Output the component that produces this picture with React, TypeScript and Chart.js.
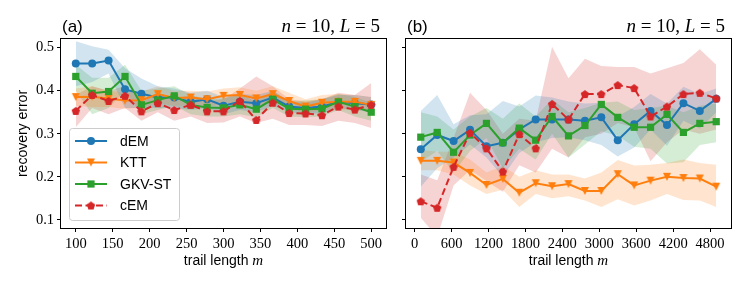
import React, { useEffect, useRef } from 'react';
import { Chart, registerables } from 'chart.js';
import { drawPoint } from 'chart.js/helpers';

Chart.register(...registerables);

// ---------------- data ----------------
const seriesNames = ['dEM', 'KTT', 'GKV-ST', 'cEM'];

const mLeft = [100, 122.2, 144.4, 166.7, 188.9, 211.1, 233.3, 255.6, 277.8, 300, 322.2, 344.4, 366.7, 388.9, 411.1, 433.3, 455.6, 477.8, 500];
const mRight = [100, 367, 633, 900, 1167, 1433, 1700, 1967, 2233, 2500, 2767, 3033, 3300, 3567, 3833, 4100, 4367, 4633, 4900];

const xTicksLeft = [100, 150, 200, 250, 300, 350, 400, 450, 500];
const xTicksRight = [0, 600, 1200, 1800, 2400, 3000, 3600, 4200, 4800];
const yTicks = [0.1, 0.2, 0.3, 0.4, 0.5];

// panel (a)
const aDEM = [0.463, 0.463, 0.470, 0.403, 0.393, 0.384, 0.384, 0.374, 0.380, 0.365, 0.374, 0.371, 0.384, 0.363, 0.360, 0.363, 0.374, 0.371, 0.368];
const aDEMHi = [0.515, 0.503, 0.495, 0.452, 0.428, 0.410, 0.405, 0.395, 0.400, 0.385, 0.392, 0.390, 0.400, 0.375, 0.372, 0.380, 0.390, 0.390, 0.385];
const aDEMLo = [0.410, 0.420, 0.440, 0.360, 0.360, 0.360, 0.360, 0.355, 0.360, 0.345, 0.355, 0.350, 0.365, 0.350, 0.345, 0.348, 0.358, 0.355, 0.350];

const aKTT = [0.385, 0.386, 0.382, 0.377, 0.378, 0.392, 0.383, 0.384, 0.380, 0.388, 0.390, 0.382, 0.392, 0.376, 0.363, 0.372, 0.374, 0.374, 0.367];
const aKTTHi = [0.405, 0.410, 0.400, 0.395, 0.398, 0.410, 0.400, 0.400, 0.398, 0.405, 0.408, 0.400, 0.410, 0.395, 0.380, 0.390, 0.392, 0.390, 0.385];
const aKTTLo = [0.365, 0.362, 0.362, 0.358, 0.360, 0.372, 0.365, 0.366, 0.362, 0.370, 0.372, 0.365, 0.375, 0.358, 0.347, 0.355, 0.356, 0.357, 0.350];

const aGKV = [0.433, 0.394, 0.398, 0.433, 0.367, 0.378, 0.388, 0.367, 0.361, 0.360, 0.367, 0.357, 0.380, 0.358, 0.357, 0.358, 0.374, 0.363, 0.350];
const aGKVHi = [0.460, 0.430, 0.430, 0.460, 0.400, 0.405, 0.410, 0.390, 0.380, 0.382, 0.390, 0.375, 0.400, 0.376, 0.378, 0.380, 0.392, 0.385, 0.372];
const aGKVLo = [0.400, 0.345, 0.360, 0.400, 0.345, 0.355, 0.365, 0.345, 0.340, 0.340, 0.345, 0.338, 0.360, 0.340, 0.338, 0.340, 0.355, 0.340, 0.330];

const aCEM = [0.353, 0.390, 0.376, 0.388, 0.352, 0.371, 0.355, 0.367, 0.352, 0.352, 0.376, 0.332, 0.372, 0.348, 0.347, 0.343, 0.363, 0.356, 0.367];
const aCEMHi = [0.390, 0.410, 0.400, 0.410, 0.375, 0.390, 0.380, 0.390, 0.375, 0.380, 0.405, 0.433, 0.410, 0.380, 0.375, 0.380, 0.395, 0.390, 0.418];
const aCEMLo = [0.315, 0.360, 0.345, 0.360, 0.330, 0.350, 0.330, 0.340, 0.325, 0.326, 0.340, 0.325, 0.335, 0.320, 0.320, 0.318, 0.330, 0.325, 0.313];

// panel (b)
const bDEM = [0.264, 0.297, 0.283, 0.309, 0.271, 0.279, 0.310, 0.333, 0.333, 0.333, 0.330, 0.338, 0.285, 0.322, 0.353, 0.320, 0.371, 0.353, 0.381];
const bDEMHi = [0.353, 0.390, 0.322, 0.343, 0.345, 0.376, 0.363, 0.389, 0.384, 0.375, 0.370, 0.372, 0.340, 0.362, 0.392, 0.370, 0.409, 0.392, 0.405];
const bDEMLo = [0.177, 0.220, 0.245, 0.275, 0.245, 0.200, 0.255, 0.280, 0.290, 0.292, 0.285, 0.274, 0.247, 0.268, 0.310, 0.272, 0.330, 0.312, 0.350];

const bKTT = [0.237, 0.237, 0.233, 0.209, 0.181, 0.195, 0.163, 0.185, 0.178, 0.183, 0.167, 0.167, 0.206, 0.180, 0.191, 0.200, 0.197, 0.196, 0.177];
const bKTTHi = [0.262, 0.258, 0.258, 0.240, 0.210, 0.225, 0.200, 0.215, 0.205, 0.205, 0.196, 0.210, 0.239, 0.226, 0.228, 0.232, 0.240, 0.232, 0.228];
const bKTTLo = [0.215, 0.215, 0.205, 0.180, 0.160, 0.170, 0.130, 0.160, 0.150, 0.155, 0.145, 0.130, 0.148, 0.133, 0.145, 0.160, 0.146, 0.145, 0.130];

const bGKV = [0.292, 0.303, 0.257, 0.297, 0.324, 0.279, 0.313, 0.285, 0.340, 0.295, 0.319, 0.368, 0.338, 0.315, 0.315, 0.345, 0.303, 0.324, 0.328];
const bGKVHi = [0.350, 0.340, 0.310, 0.340, 0.360, 0.335, 0.370, 0.340, 0.380, 0.350, 0.360, 0.372, 0.375, 0.355, 0.360, 0.365, 0.350, 0.365, 0.370];
const bGKVLo = [0.235, 0.260, 0.210, 0.260, 0.290, 0.220, 0.265, 0.240, 0.300, 0.245, 0.275, 0.306, 0.295, 0.270, 0.265, 0.231, 0.234, 0.274, 0.280];

const bCEM = [0.143, 0.128, 0.223, 0.302, 0.266, 0.212, 0.299, 0.266, 0.369, 0.333, 0.392, 0.392, 0.413, 0.406, 0.340, 0.363, 0.392, 0.395, 0.382];
const bCEMHi = [0.205, 0.192, 0.290, 0.395, 0.355, 0.300, 0.335, 0.330, 0.502, 0.429, 0.474, 0.457, 0.455, 0.455, 0.440, 0.452, 0.464, 0.496, 0.460];
const bCEMLo = [0.105, 0.060, 0.180, 0.216, 0.190, 0.165, 0.227, 0.210, 0.265, 0.245, 0.292, 0.300, 0.325, 0.315, 0.236, 0.280, 0.310, 0.300, 0.310];

// ---------------- styling ----------------
const COLORS = ['#1f77b4', '#ff7f0e', '#2ca02c', '#d62728'];
const FILLS = ['rgba(31,119,180,0.2)', 'rgba(255,127,14,0.2)', 'rgba(44,160,44,0.2)', 'rgba(214,39,40,0.2)'];
const SERIF = "'Liberation Serif', 'DejaVu Serif', serif";
const SANS = "'Liberation Sans', 'DejaVu Sans', sans-serif";

function makeTriangleDown(color: string) {
  const c = document.createElement('canvas');
  c.width = 10; c.height = 10;
  const g = c.getContext('2d')!;
  g.beginPath();
  g.moveTo(1, 1); g.lineTo(9, 1); g.lineTo(5, 9); g.closePath();
  g.fillStyle = color; g.fill();
  return c;
}
function makePentagon(color: string) {
  const c = document.createElement('canvas');
  c.width = 10; c.height = 10;
  const g = c.getContext('2d')!;
  g.beginPath();
  for (let k = 0; k < 5; k++) {
    const a = -Math.PI / 2 + (k * 2 * Math.PI) / 5;
    const px = 5 + 4.4 * Math.cos(a);
    const py = 5.4 + 4.4 * Math.sin(a);
    if (k === 0) g.moveTo(px, py); else g.lineTo(px, py);
  }
  g.closePath();
  g.fillStyle = color; g.fill();
  return c;
}

type Series = { mean: number[]; hi: number[]; lo: number[] };

function markerStyles() {
  return [
    { pointStyle: 'circle' as any, radius: 4 },
    { pointStyle: makeTriangleDown(COLORS[1]) as any, radius: 5 },
    { pointStyle: 'rect' as any, radius: 5.1 },
    { pointStyle: makePentagon(COLORS[3]) as any, radius: 5 },
  ];
}
const DASHES = [[], [], [], [7, 3.5]];

function drawMixed(ctx: CanvasRenderingContext2D, parts: { t: string; f: string }[], x: number, y: number, align: 'left' | 'right' | 'center') {
  let total = 0;
  for (const p of parts) { ctx.font = p.f; total += ctx.measureText(p.t).width; }
  let cx = align === 'left' ? x : align === 'right' ? x - total : x - total / 2;
  ctx.textAlign = 'left';
  for (const p of parts) {
    ctx.font = p.f;
    ctx.fillText(p.t, cx, y);
    cx += ctx.measureText(p.t).width;
  }
}

function buildConfig(opts: {
  xs: number[]; series: Series[]; xMin: number; xMax: number; xTicks: number[];
  yWidth: number; padRight: number; showYLabels: boolean; tag: string; legend: boolean;
}) {
  const markers = markerStyles();
  const datasets: any[] = [];
  opts.series.forEach((s, i) => {
    datasets.push({
      label: seriesNames[i],
      data: opts.xs.map((x, j) => ({ x, y: s.mean[j] })),
      borderColor: COLORS[i],
      backgroundColor: COLORS[i],
      borderWidth: 2,
      borderDash: DASHES[i],
      pointStyle: markers[i].pointStyle,
      pointRadius: markers[i].radius,
      pointHoverRadius: markers[i].radius,
      pointBorderWidth: 0,
      fill: false,
      tension: 0,
      order: 4 - i,
    });
  });
  opts.series.forEach((s, i) => {
    datasets.push({
      label: seriesNames[i] + ' upper',
      data: opts.xs.map((x, j) => ({ x, y: s.hi[j] })),
      borderWidth: 0,
      borderColor: 'rgba(0,0,0,0)',
      pointRadius: 0,
      backgroundColor: FILLS[i],
      fill: '+1',
      tension: 0,
      order: 20,
    });
    datasets.push({
      label: seriesNames[i] + ' lower',
      data: opts.xs.map((x, j) => ({ x, y: s.lo[j] })),
      borderWidth: 0,
      borderColor: 'rgba(0,0,0,0)',
      pointRadius: 0,
      backgroundColor: 'rgba(0,0,0,0)',
      fill: false,
      tension: 0,
      order: 20,
    });
  });

  const decor = {
    id: 'decor',
    afterDraw(chart: any) {
      const { ctx, chartArea: ca } = chart;
      ctx.save();
      // frame
      ctx.strokeStyle = '#000';
      ctx.lineWidth = 1;
      ctx.setLineDash([]);
      ctx.strokeRect(ca.left - 0.5, ca.top - 0.5, ca.right - ca.left + 1, ca.bottom - ca.top + 1);

      ctx.fillStyle = '#000';
      ctx.textBaseline = 'alphabetic';
      // panel tag
      ctx.font = `17px ${SANS}`;
      ctx.textAlign = 'left';
      ctx.fillText(opts.tag, ca.left + 1, 32);
      // right title
      drawMixed(ctx, [
        { t: 'n', f: `italic 19px ${SERIF}` },
        { t: ' = 10, ', f: `19px ${SERIF}` },
        { t: 'L', f: `italic 19px ${SERIF}` },
        { t: ' = 5', f: `19px ${SERIF}` },
      ], ca.right - 6, 32, 'right');
      // x axis title
      drawMixed(ctx, [
        { t: 'trail length ', f: `14px ${SANS}` },
        { t: 'm', f: `italic 15px ${SERIF}` },
      ], (ca.left + ca.right) / 2, 264.5, 'center');
      // y axis title
      if (opts.showYLabels) {
        ctx.save();
        ctx.translate(27, (ca.top + ca.bottom) / 2);
        ctx.rotate(-Math.PI / 2);
        ctx.font = `14px ${SANS}`;
        ctx.textAlign = 'center';
        ctx.fillText('recovery error', 0, 0);
        ctx.restore();
      }
      // legend
      if (opts.legend) {
        const x0 = ca.left + 8;
        const h = 92, w = 110;
        const y0 = ca.bottom - 8 - h;
        ctx.beginPath();
        (ctx as any).roundRect(x0 + 0.5, y0 + 0.5, w, h, 3);
        ctx.fillStyle = 'rgba(255,255,255,0.8)';
        ctx.fill();
        ctx.strokeStyle = '#cccccc';
        ctx.lineWidth = 1;
        ctx.stroke();
        for (let i = 0; i < 4; i++) {
          const y = y0 + 13 + i * 21.5;
          ctx.strokeStyle = COLORS[i];
          ctx.lineWidth = 2;
          ctx.setLineDash(DASHES[i]);
          ctx.beginPath();
          ctx.moveTo(x0 + 6, y);
          ctx.lineTo(x0 + 38, y);
          ctx.stroke();
          ctx.setLineDash([]);
          ctx.fillStyle = COLORS[i];
          drawPoint(ctx, { pointStyle: markers[i].pointStyle, radius: markers[i].radius, rotation: 0, borderWidth: 0 } as any, x0 + 22, y);
          ctx.fillStyle = '#000';
          ctx.font = `14px ${SANS}`;
          ctx.textAlign = 'left';
          ctx.textBaseline = 'middle';
          ctx.fillText(seriesNames[i], x0 + 51, y + 1);
          ctx.textBaseline = 'alphabetic';
        }
      }
      ctx.restore();
    },
  };

  return {
    type: 'line' as const,
    data: { datasets },
    options: {
      animation: false as const,
      responsive: false,
      maintainAspectRatio: false,
      layout: { padding: { top: 39, right: opts.padRight, left: 0, bottom: 0 } },
      plugins: {
        legend: { display: false },
        tooltip: { enabled: false },
        title: { display: false },
        filler: { drawTime: 'beforeDatasetsDraw' as const },
      },
      scales: {
        x: {
          type: 'linear' as const,
          min: opts.xMin,
          max: opts.xMax,
          afterBuildTicks: (axis: any) => { axis.ticks = opts.xTicks.map((v) => ({ value: v })); },
          afterFit: (s: any) => { s.height = 56; },
          ticks: {
            autoSkip: false,
            maxRotation: 0,
            color: '#000',
            padding: 3,
            font: { family: SERIF, size: 14.5 },
            callback: (v: any) => String(v),
          },
          grid: { display: true, drawOnChartArea: false, drawTicks: true, tickLength: 4, color: '#000', lineWidth: 1 },
          border: { display: false },
        },
        y: {
          type: 'linear' as const,
          min: 0.081,
          max: 0.52,
          afterBuildTicks: (axis: any) => { axis.ticks = yTicks.map((v) => ({ value: v })); },
          afterFit: (s: any) => { s.width = opts.yWidth; },
          ticks: {
            display: opts.showYLabels,
            color: '#000',
            padding: 3,
            font: { family: SERIF, size: 14.5 },
            callback: (v: any) => Number(v).toFixed(1),
          },
          grid: { display: true, drawOnChartArea: false, drawTicks: true, tickLength: 4, color: '#000', lineWidth: 1 },
          border: { display: false },
        },
      },
    },
    plugins: [decor],
  };
}

function Panel(props: { left: number; width: number; make: () => any }) {
  const ref = useRef<HTMLCanvasElement>(null);
  useEffect(() => {
    const chart = new Chart(ref.current!, props.make());
    return () => chart.destroy();
  }, []);
  return (
    <canvas
      ref={ref}
      width={props.width}
      height={284}
      style={{ position: 'absolute', left: props.left, top: 0, width: props.width, height: 284 }}
    />
  );
}

export default function App() {
  const makeA = () =>
    buildConfig({
      xs: mLeft,
      series: [
        { mean: aDEM, hi: aDEMHi, lo: aDEMLo },
        { mean: aKTT, hi: aKTTHi, lo: aKTTLo },
        { mean: aGKV, hi: aGKVHi, lo: aGKVLo },
        { mean: aCEM, hi: aCEMHi, lo: aCEMLo },
      ],
      xMin: 80, xMax: 520, xTicks: xTicksLeft,
      yWidth: 61, padRight: 9, showYLabels: true, tag: '(a)', legend: true,
    });
  const makeB = () =>
    buildConfig({
      xs: mRight,
      series: [
        { mean: bDEM, hi: bDEMHi, lo: bDEMLo },
        { mean: bKTT, hi: bKTTHi, lo: bKTTLo },
        { mean: bGKV, hi: bGKVHi, lo: bGKVLo },
        { mean: bCEM, hi: bCEMHi, lo: bCEMLo },
      ],
      xMin: -140, xMax: 5140, xTicks: xTicksRight,
      yWidth: 11, padRight: 16, showYLabels: false, tag: '(b)', legend: false,
    });
  return (
    <div style={{ position: 'absolute', left: 0, top: 0, width: 747, height: 284, background: '#fff', overflow: 'hidden' }}>
      <Panel left={0} width={395} make={makeA} />
      <Panel left={395} width={352} make={makeB} />
    </div>
  );
}
